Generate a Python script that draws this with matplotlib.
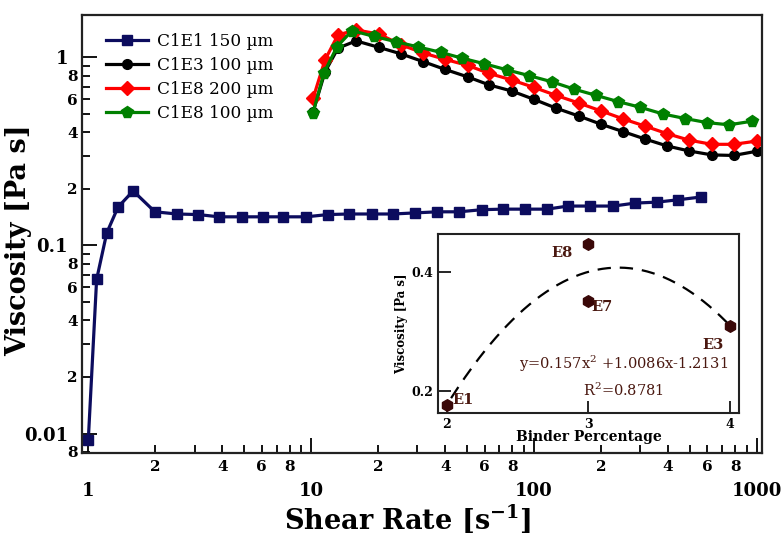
import numpy as np
import matplotlib
matplotlib.use("Agg")
import matplotlib.pyplot as plt
from matplotlib.ticker import LogLocator, FuncFormatter, FixedLocator

plt.rcParams['font.family'] = ['DejaVu Serif']
plt.rcParams['mathtext.fontset'] = 'dejavuserif'

# Flow curves: shear rate [1/s] vs viscosity [Pa s]
shear_c1e1 = [1.0, 1.09, 1.21, 1.36, 1.59, 1.99, 2.5, 3.11, 3.86, 4.9, 6.08, 7.48,
              9.49, 11.9, 14.8, 18.8, 23.3, 29.3, 36.8, 46.1, 58.5, 72.7, 91.3,
              114.5, 142, 179, 227, 284, 357, 444, 562]
visc_c1e1 = [0.0092, 0.066, 0.1165, 0.160, 0.195, 0.151, 0.147, 0.146, 0.142, 0.142,
             0.142, 0.142, 0.142, 0.146, 0.147, 0.147, 0.147, 0.149, 0.151, 0.151,
             0.155, 0.156, 0.156, 0.156, 0.162, 0.162, 0.162, 0.168, 0.170, 0.175, 0.181]

shear_c1e3 = [10.2, 11.54, 13.2, 15.91, 20.17, 25.32, 31.78, 39.9, 50.35, 62.9, 79.3,
              100.1, 125.7, 159.4, 200.1, 251.1, 315.2, 395.8, 496.8, 628, 786.8, 1000]
visc_c1e3 = [0.513, 0.837, 1.12, 1.224, 1.13, 1.044, 0.95, 0.863, 0.788, 0.714, 0.663,
             0.598, 0.537, 0.487, 0.441, 0.403, 0.368, 0.338, 0.318, 0.303, 0.301, 0.317]

shear_c1e8_200 = shear_c1e3
visc_c1e8_200 = [0.605, 0.97, 1.317, 1.40, 1.33, 1.166, 1.056, 0.976, 0.907, 0.822, 0.759,
                 0.692, 0.628, 0.571, 0.519, 0.471, 0.431, 0.393, 0.363, 0.345, 0.345, 0.359]

shear_c1e8_100 = [10.2, 11.43, 13.07, 15.26, 19.16, 23.92, 30.18, 38.28, 47.57, 59.7, 75.7,
                  95.1, 120.6, 151.4, 190, 238.5, 299.4, 379.6, 476.7, 598.4, 751, 952.6]
visc_c1e8_100 = [0.509, 0.830, 1.141, 1.387, 1.293, 1.213, 1.137, 1.063, 0.990, 0.926, 0.858,
                 0.800, 0.741, 0.678, 0.628, 0.582, 0.543, 0.500, 0.473, 0.45, 0.438, 0.458]

series_labels = ["C1E1 150 µm", "C1E3 100 µm", "C1E8 200 µm", "C1E8 100 µm"]

# Inset: viscosity against binder percentage
binder_pct = [2, 3, 3, 4]
binder_visc = [0.176, 0.4466, 0.3508, 0.3087]
binder_names = ["E1", "E8", "E7", "E3"]
fit_coeffs = [-0.157, 1.0086, -1.2131]
fit_text = "y=0.157x$^{2}$ +1.0086x-1.2131"
r2_text = "R$^{2}$=0.8781"

fig = plt.figure(figsize=(7.83, 5.44), dpi=100)
ax = fig.add_axes([0.1047, 0.1667, 0.8691, 0.8057])

lw = 2.3
ax.plot(shear_c1e1, visc_c1e1, color='#0c0c5e', marker='s', ms=7, lw=lw, label=series_labels[0])
ax.plot(shear_c1e3, visc_c1e3, color='black', marker='o', ms=7, lw=lw, label=series_labels[1])
ax.plot(shear_c1e8_200, visc_c1e8_200, color='#ff0000', marker='D', ms=7, lw=lw, label=series_labels[2])
ax.plot(shear_c1e8_100, visc_c1e8_100, color='#008000', marker='p', ms=8.5, lw=lw, label=series_labels[3])

ax.set_xscale('log')
ax.set_yscale('log')
ax.set_xlim(0.937, 1060)
ax.set_ylim(0.00785, 1.68)

def major_fmt(v, pos):
    return f"{v:g}"

def minor_fmt(v, pos):
    m = v / 10 ** np.floor(np.log10(v) + 1e-9)
    k = int(round(m))
    return str(k) if k in (2, 4, 6, 8) and abs(m - k) < 1e-6 else ""

for axis in (ax.xaxis, ax.yaxis):
    axis.set_major_locator(LogLocator(base=10, numticks=10))
    axis.set_minor_locator(LogLocator(base=10, subs=np.arange(2, 10), numticks=20))
    axis.set_major_formatter(FuncFormatter(major_fmt))
    axis.set_minor_formatter(FuncFormatter(minor_fmt))

ax.tick_params(which='both', direction='in', top=False, right=False, width=1.3, colors='black')
ax.tick_params(which='major', length=11)
ax.tick_params(which='minor', length=6)
ax.tick_params(axis='x', which='major', pad=21, labelsize=13)
ax.tick_params(axis='x', which='minor', pad=5, labelsize=11)
ax.tick_params(axis='y', which='major', pad=10, labelsize=13)
ax.tick_params(axis='y', which='minor', pad=3, labelsize=11)
for lab in ax.get_xticklabels(which='both') + ax.get_yticklabels(which='both'):
    lab.set_fontweight('bold')

for sp in ax.spines.values():
    sp.set_linewidth(1.6)
    sp.set_color('#222222')

ax.set_xlabel("Shear Rate [s$^{\\mathbf{-1}}$]", fontsize=19.5, fontweight='bold')
ax.xaxis.set_label_coords(0.478, -0.112)
ax.set_ylabel("Viscosity [Pa s]", fontsize=19.5, fontweight='bold')
ax.yaxis.set_label_coords(-0.073, 0.487)

leg = ax.legend(loc='upper left', bbox_to_anchor=(0.035, 0.958), frameon=False,
                fontsize=12.2, handlelength=2.5, handletextpad=0.55, labelspacing=0.4,
                borderaxespad=0, borderpad=0, numpoints=1)

# Inset
ins = fig.add_axes([0.5598, 0.2414, 0.3844, 0.3285])
ins.set_facecolor('white')
ins.set_zorder(5)
xf = np.linspace(2.03, 4.0, 200)
ins.plot(xf, np.polyval(fit_coeffs, xf), color='black', lw=1.6, ls=(0, (6, 4)))
ins.scatter(binder_pct, binder_visc, marker='h', s=70, color='#3a0808', zorder=3)
name_pos = {"E1": (2.117, 0.184), "E8": (2.81, 0.431), "E7": (3.094, 0.340), "E3": (3.877, 0.277)}
for nm in binder_names:
    xv, yv = name_pos[nm]
    ins.text(xv, yv, nm, fontsize=10.5, fontweight='bold', color='#4a1810', ha='center', va='center')
ins.text(3.25, 0.245, fit_text, fontsize=10.5, color='#4a1810', ha='center', va='center')
ins.text(3.25, 0.2, r2_text, fontsize=10.5, color='#4a1810', ha='center', va='center')

ins.set_xlim(1.94, 4.066)
ins.set_ylim(0.163, 0.4633)
ins.xaxis.set_major_locator(FixedLocator([2, 3, 4]))
ins.yaxis.set_major_locator(FixedLocator([0.2, 0.4]))
ins.xaxis.set_major_formatter(FuncFormatter(lambda v, p: f"{v:g}"))
ins.yaxis.set_major_formatter(FuncFormatter(lambda v, p: f"{v:g}"))
ins.tick_params(direction='in', length=9, width=1.2, labelsize=9, pad=4, top=False, right=False)
for lab in ins.get_xticklabels() + ins.get_yticklabels():
    lab.set_fontweight('bold')
for sp in ins.spines.values():
    sp.set_linewidth(1.5)
    sp.set_color('#222222')
ins.set_xlabel("Binder Percentage", fontsize=10, fontweight='bold', labelpad=-1)
ins.set_ylabel("Viscosity [Pa s]", fontsize=8.5, fontweight='bold', labelpad=2)

fig.savefig("out.png", dpi=100)
